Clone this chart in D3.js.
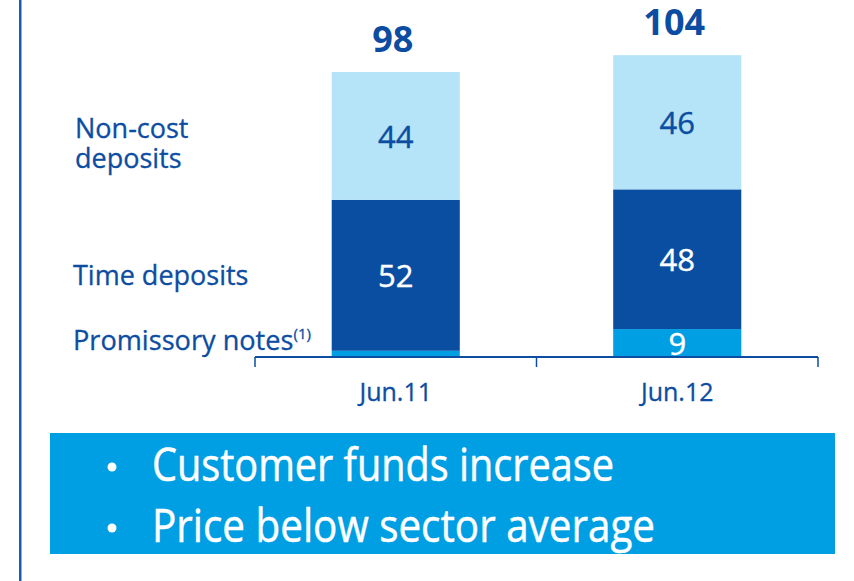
<!DOCTYPE html>
<html>
<head>
<meta charset="utf-8">
<script src="https://cdn.jsdelivr.net/npm/d3@7"></script>
<style>
  html, body { margin: 0; padding: 0; background: #ffffff; }
  svg { display: block; }
  text { font-family: "Open Sans", "DejaVu Sans", sans-serif; }
</style>
</head>
<body>
<svg id="chart" width="854" height="581"></svg>
<script>
// ---- data ----
const categories = ["Jun.11", "Jun.12"];
const seriesNames = ["Promissory notes", "Time deposits", "Non-cost deposits"];
const promissoryNotes = [1.8, 9.3];
const timeDeposits = [52.1, 48.2];
const nonCostDeposits = [44.1, 46.3];
const promissoryLabels = ["", "9"];
const timeLabels = ["52", "48"];
const nonCostLabels = ["44", "46"];
const totalLabels = ["98", "104"];
const bulletTexts = ["Customer funds increase", "Price below sector average"];

// ---- styles ----
const colors = ["#009fe3", "#0a4ea2", "#b5e4f8"];
const labelColors = ["#ffffff", "#ffffff", "#0c4da2"];
const textBlue = "#0c4da2";

const svg = d3.select("#chart");

// left vertical rule
svg.append("rect").attr("x", 19).attr("y", 0).attr("width", 2.5).attr("height", 581).attr("fill", "#1a5cb5");

const x = d3.scaleBand().domain(categories).range([255, 818]).paddingInner(0.545).paddingOuter(0.2725);
const y = d3.scaleLinear().domain([0, 100]).range([356, 356 - 289.8]);

const table = categories.map((c, i) => ({
  cat: c,
  [seriesNames[0]]: promissoryNotes[i],
  [seriesNames[1]]: timeDeposits[i],
  [seriesNames[2]]: nonCostDeposits[i]
}));
const stacked = d3.stack().keys(seriesNames)(table);
const labelSets = [promissoryLabels, timeLabels, nonCostLabels];

const layers = svg.append("g").selectAll("g").data(stacked).join("g")
  .attr("fill", (d, i) => colors[i]);
layers.selectAll("rect").data(d => d).join("rect")
  .attr("x", d => x(d.data.cat))
  .attr("width", x.bandwidth())
  .attr("y", d => y(d[1]))
  .attr("height", d => y(d[0]) - y(d[1]));

// segment value labels
stacked.forEach((layer, li) => {
  svg.append("g").selectAll("text").data(layer).join("text")
    .attr("x", d => x(d.data.cat) + x.bandwidth() / 2)
    .attr("y", d => (y(d[0]) + y(d[1])) / 2 + 12)
    .attr("text-anchor", "middle")
    .attr("font-size", 31)
    .attr("fill", labelColors[li])
    .attr("stroke", labelColors[li])
    .attr("stroke-width", 0.4)
    .text((d, i) => labelSets[li][i]);
});

// totals
const topLayer = stacked[stacked.length - 1];
svg.append("g").selectAll("text").data(topLayer).join("text")
  .attr("x", d => x(d.data.cat) + x.bandwidth() / 2 - 3)
  .attr("y", d => y(d[1]) - 20)
  .attr("text-anchor", "middle")
  .attr("font-size", 36)
  .attr("font-weight", 700)
  .attr("fill", textBlue)
  .text((d, i) => totalLabels[i]);

// axis line with ticks
const [r0, r1] = x.range();
const axisY = y(0) + 1;
svg.append("line").attr("x1", r0).attr("x2", r1).attr("y1", axisY).attr("y2", axisY)
  .attr("stroke", textBlue).attr("stroke-width", 2);
const tickXs = [r0, (r0 + r1) / 2, r1];
svg.append("g").selectAll("line").data(tickXs).join("line")
  .attr("x1", d => d).attr("x2", d => d)
  .attr("y1", axisY).attr("y2", axisY + 10)
  .attr("stroke", textBlue).attr("stroke-width", 1.5);

// category labels
svg.append("g").selectAll("text").data(categories).join("text")
  .attr("x", d => x(d) + x.bandwidth() / 2)
  .attr("y", 401)
  .attr("text-anchor", "middle")
  .attr("font-size", 25)
  .attr("fill", textBlue)
  .attr("stroke", textBlue)
  .attr("stroke-width", 0.3)
  .text(d => d);

// series labels on the left
const lg = svg.append("g").attr("fill", textBlue).attr("stroke", textBlue)
  .attr("stroke-width", 0.3).attr("font-size", 27);
lg.append("text").attr("x", 75).attr("y", 138).text("Non-cost");
lg.append("text").attr("x", 75).attr("y", 168).text("deposits");
lg.append("text").attr("x", 73).attr("y", 285).text(seriesNames[1]);
const pn = lg.append("text").attr("x", 73).attr("y", 350).attr("textLength", 238).attr("lengthAdjust", "spacingAndGlyphs");
pn.append("tspan").text("Promissory notes");
pn.append("tspan").attr("font-size", 15).attr("dy", -11).text("(1)");

// bottom box
svg.append("rect").attr("x", 50).attr("y", 433).attr("width", 785).attr("height", 121).attr("fill", "#009fe3");
const bl = svg.append("g").attr("fill", "#ffffff");
const lineYs = [481, 542];
const lineWidths = [462, 503];
bulletTexts.forEach((t, i) => {
  bl.append("circle").attr("cx", 112).attr("cy", lineYs[i] - 14).attr("r", 4.5);
  bl.append("text").attr("x", 152).attr("y", lineYs[i])
    .attr("font-size", 46)
    .attr("stroke", "#ffffff")
    .attr("stroke-width", 0.5)
    .attr("textLength", lineWidths[i])
    .attr("lengthAdjust", "spacingAndGlyphs")
    .text(t);
});
</script>
</body>
</html>
